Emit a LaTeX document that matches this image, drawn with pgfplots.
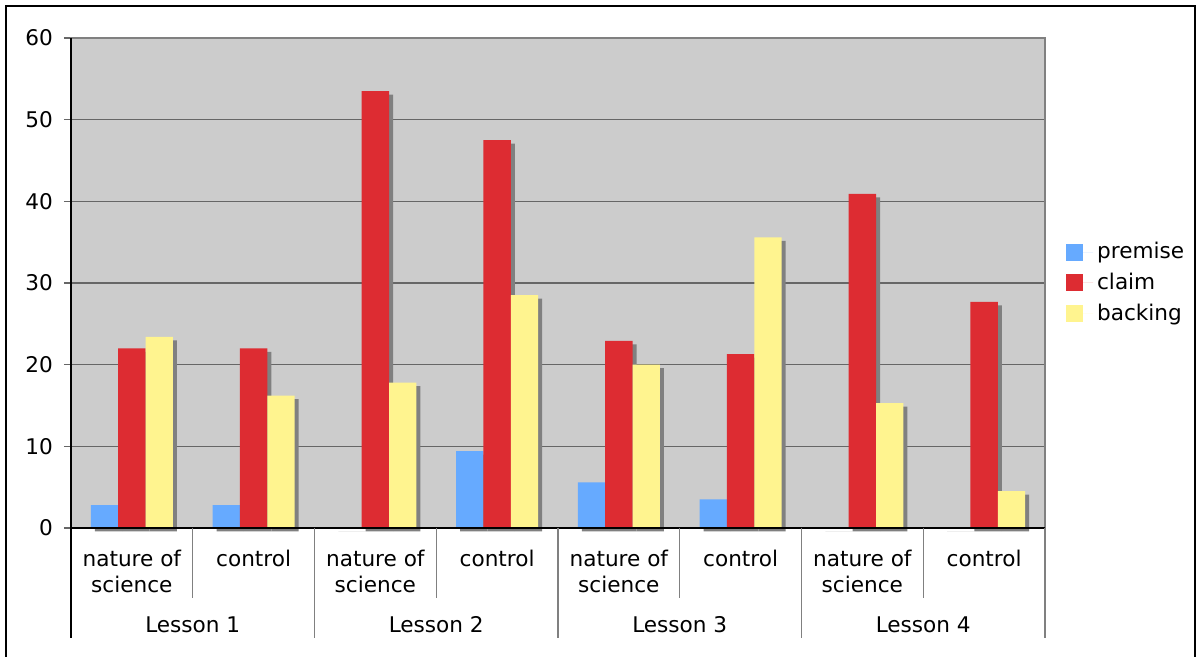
\documentclass[border=0pt]{standalone}
\usepackage{fontspec}
\setmainfont{DejaVu Sans}
\usepackage{pgfplots}
\pgfplotsset{compat=1.18}
\definecolor{plotbg}{RGB}{204,204,204}
\definecolor{cpremise}{RGB}{102,170,255}
\definecolor{cclaim}{RGB}{221,44,50}
\definecolor{cbacking}{RGB}{255,244,143}
\definecolor{cshadow}{RGB}{128,128,128}
\definecolor{cgrid}{RGB}{102,102,102}
\newcommand{\lfont}{\fontsize{10.8}{13}\selectfont}
\begin{document}
\begin{tikzpicture}
\useasboundingbox (-35.5pt,-64.5pt) rectangle (562.5pt,264pt);
\draw[line width=1pt] (-32.5pt,-70pt) -- (-32.5pt,261pt) -- (561.8pt,261pt) -- (561.8pt,-70pt);
\begin{axis}[
  at={(0,0)}, anchor=south west,
  scale only axis, width=487pt, height=245pt,
  clip mode=individual,
  xmin=-0.5, xmax=7.5, ymin=0, ymax=60,
  ytick={0,10,...,60},
  xtick={0,...,7},
  xticklabels={{nature of\\science},control,{nature of\\science},control,{nature of\\science},control,{nature of\\science},control},
  xtick style={draw=none},
  ytick style={draw=cgrid, line width=0.7pt},
  ytick pos=left, ytick align=outside, major tick length=3.5pt,
  ymajorgrids,
  grid style={draw=cgrid, line width=0.7pt},
  axis line style={draw=cshadow, line width=0.7pt},
  axis background/.style={fill=plotbg},
  /pgf/number format/assume math mode=true,
  tick label style={font=\lfont},
  xticklabel style={align=center, anchor=north, yshift=-7.5pt},
  yticklabel style={xshift=-2pt},
  bar width=0.225,
  legend style={at={(1.0151,0.5)}, anchor=west, draw=none, fill=none, font=\lfont, row sep=1.75pt},
  legend cell align=left,
  legend image code/.code={\fill[#1] (0pt,-4.25pt) rectangle (8.5pt,4.25pt); \path (0pt,0pt) -- (13.5pt,0pt);},
]
% shadows
\addplot[ybar, forget plot, fill=cshadow, draw=none, bar shift=-0.225, xshift=2pt, yshift=-1.75pt] coordinates {(0,2.8) (1,2.8) (2,0) (3,9.4) (4,5.6) (5,3.5) (6,0) (7,0)};
\addplot[ybar, forget plot, fill=cshadow, draw=none, bar shift=0, xshift=2pt, yshift=-1.75pt] coordinates {(0,22.0) (1,22.0) (2,53.5) (3,47.5) (4,22.9) (5,21.3) (6,40.9) (7,27.7)};
\addplot[ybar, forget plot, fill=cshadow, draw=none, bar shift=0.225, xshift=2pt, yshift=-1.75pt] coordinates {(0,23.4) (1,16.2) (2,17.8) (3,28.5) (4,20.0) (5,35.6) (6,15.3) (7,4.5)};
% bars
\addplot[ybar, fill=cpremise, draw=none, bar shift=-0.225] coordinates {(0,2.8) (1,2.8) (2,0) (3,9.4) (4,5.6) (5,3.5) (6,0) (7,0)};
\addplot[ybar, fill=cclaim, draw=none, bar shift=0] coordinates {(0,22.0) (1,22.0) (2,53.5) (3,47.5) (4,22.9) (5,21.3) (6,40.9) (7,27.7)};
\addplot[ybar, fill=cbacking, draw=none, bar shift=0.225] coordinates {(0,23.4) (1,16.2) (2,17.8) (3,28.5) (4,20.0) (5,35.6) (6,15.3) (7,4.5)};
\legend{premise,claim,backing}
% frame lines and separators
\draw[black, line width=0.8pt] (axis cs:-0.5,60) -- (axis cs:-0.5,0) -- ++(0pt,-55pt);
\draw[black, line width=0.8pt] (axis cs:-0.5,0) -- (axis cs:7.5,0);
\draw[cshadow, line width=0.7pt] (axis cs:0.5,0) -- ++(0pt,-35pt);
\draw[cshadow, line width=0.7pt] (axis cs:2.5,0) -- ++(0pt,-35pt);
\draw[cshadow, line width=0.7pt] (axis cs:4.5,0) -- ++(0pt,-35pt);
\draw[cshadow, line width=0.7pt] (axis cs:6.5,0) -- ++(0pt,-35pt);
\draw[cshadow, line width=0.7pt] (axis cs:1.5,0) -- ++(0pt,-55pt);
\draw[cshadow, line width=0.7pt] (axis cs:3.5,0) -- ++(0pt,-55pt);
\draw[cshadow, line width=0.7pt] (axis cs:5.5,0) -- ++(0pt,-55pt);
\draw[cshadow, line width=0.7pt] (axis cs:7.5,0) -- ++(0pt,-55pt);
\node[anchor=base, font=\lfont, yshift=-52.3pt] at (axis cs:0.5,0) {Lesson 1};
\node[anchor=base, font=\lfont, yshift=-52.3pt] at (axis cs:2.5,0) {Lesson 2};
\node[anchor=base, font=\lfont, yshift=-52.3pt] at (axis cs:4.5,0) {Lesson 3};
\node[anchor=base, font=\lfont, yshift=-52.3pt] at (axis cs:6.5,0) {Lesson 4};
\end{axis}
\end{tikzpicture}
\end{document}
